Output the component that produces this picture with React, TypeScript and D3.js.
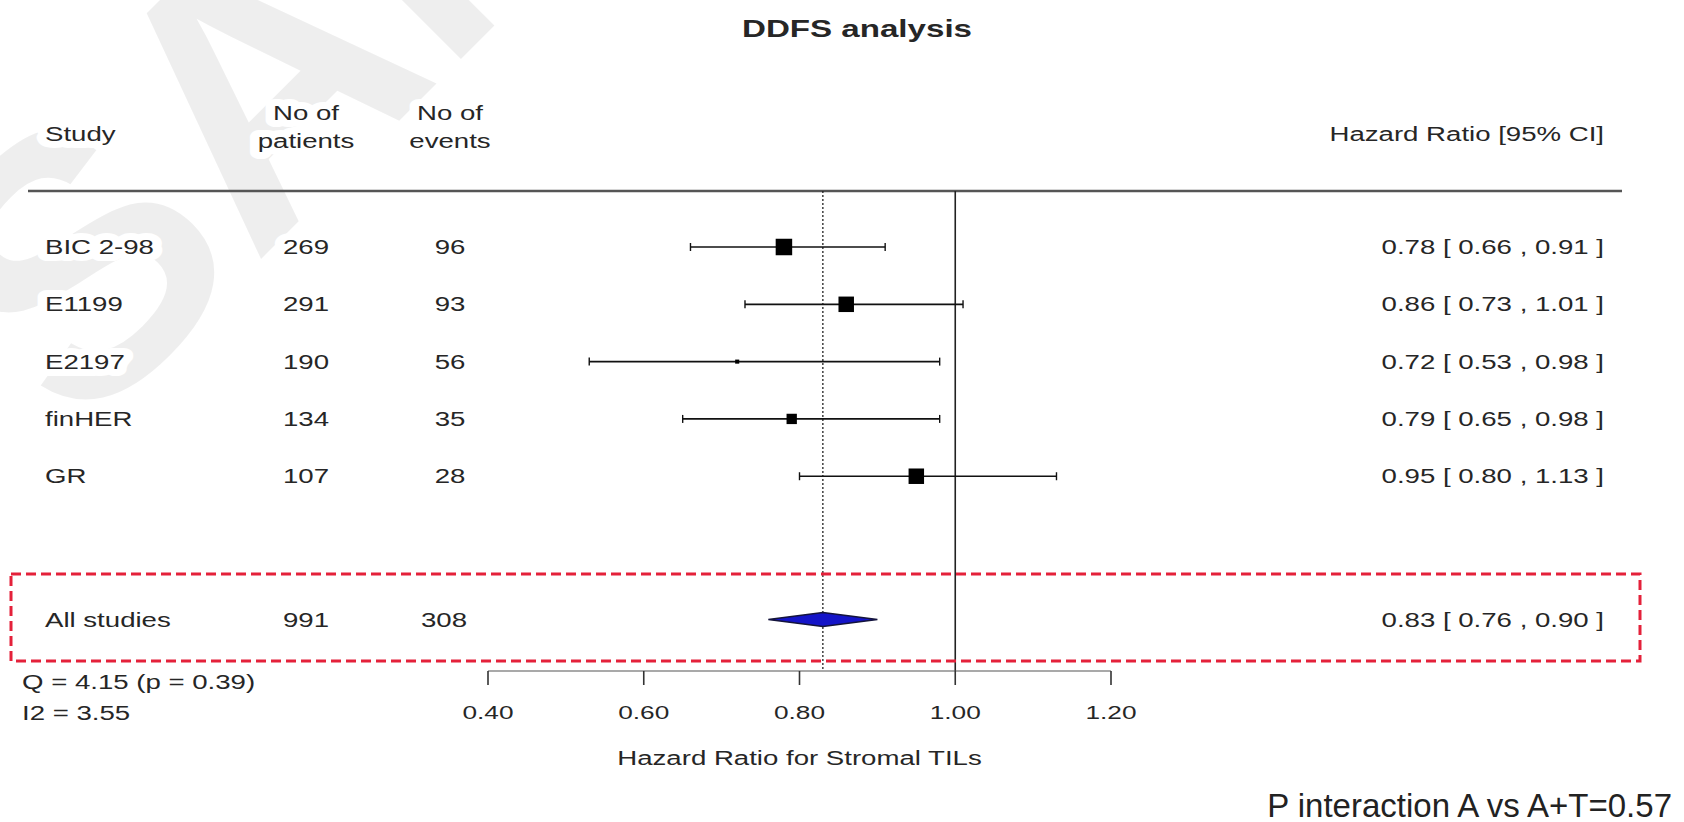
import React from "react";
import * as d3 from "d3";

// Study-level results
const studies = ["BIC 2-98", "E1199", "E2197", "finHER", "GR"];
const patients = [269, 291, 190, 134, 107];
const events = [96, 93, 56, 35, 28];
const hazardRatio = [0.78, 0.86, 0.72, 0.79, 0.95];
const ciLower = [0.66, 0.73, 0.53, 0.65, 0.8];
const ciUpper = [0.91, 1.01, 0.98, 0.98, 1.13];
const weights = [31.1, 27.4, 1.9, 12.2, 27.4];

// Pooled estimate
const pooledLabel = "All studies";
const pooledPatients = 991;
const pooledEvents = 308;
const pooledHR = 0.83;
const pooledLower = 0.76;
const pooledUpper = 0.9;

const xTicks = [0.4, 0.6, 0.8, 1.0, 1.2];
const heterogeneity = ["Q = 4.15 (p = 0.39)", "I2 = 3.55"];

const W = 1684;
const H = 822;
const SX = 1.38; // horizontal stretch of the table lettering
const FONT = "'Liberation Sans', Arial, Helvetica, sans-serif";
const INK = "#262626";

type TxtProps = {
  x: number;
  y: number;
  anchor?: "start" | "middle" | "end";
  size?: number;
  weight?: number | string;
  children: React.ReactNode;
};

// Table text: slightly widened lettering on a white knock-out so it reads over the watermark
function Txt({ x, y, anchor = "start", size = 20, weight = 400, children }: TxtProps) {
  return (
    <g transform={`translate(${x},${y}) scale(${SX},1)`}>
      <text
        x={0}
        y={0}
        textAnchor={anchor}
        dominantBaseline="central"
        fontFamily={FONT}
        fontSize={size}
        fontWeight={weight}
        fill={INK}
        stroke="#fff"
        strokeWidth={14}
        strokeLinejoin="round"
        paintOrder="stroke"
      >
        {children}
      </text>
    </g>
  );
}

const fmt = (v: number) => v.toFixed(2);

export default function App() {
  const x = d3.scaleLinear().domain([0.4, 1.2]).range([488, 1111]);
  // row index -> vertical position (pooled row sits 1.5 rows below the last study)
  const y = d3.scaleLinear().domain([0, 6.5]).range([247, 619.5]);
  const box = d3.scaleSqrt().domain([0, 31.1]).range([0, 16.5]);

  const headerLineY = 191;
  const axisY = 671;
  const tickLen = 14;

  const colStudy = 45;
  const colPatients = 306;
  const colEvents = 450;
  const colHR = 1604;

  const pooledY = y(6.5);
  const diamondH = 7;
  const diamond = d3.line()([
    [x(pooledLower), pooledY],
    [x(pooledHR), pooledY - diamondH],
    [x(pooledUpper), pooledY],
    [x(pooledHR), pooledY + diamondH],
  ]) + "Z";

  return (
    <svg
      width={W}
      height={H}
      viewBox={`0 0 ${W} ${H}`}
      style={{ position: "absolute", left: 0, top: 0, background: "#fff" }}
    >
      <rect x={0} y={0} width={W} height={H} fill="#fff" />

      {/* watermark */}
      <text
        transform="translate(80,440) rotate(-45)"
        fontFamily={FONT}
        fontWeight={700}
        fontSize={370}
        fill="#000"
        fillOpacity={0.065}
      >
        SAMPLE
      </text>

      {/* title */}
      <Txt x={857} y={29} anchor="middle" size={24} weight={700}>
        DDFS analysis
      </Txt>

      {/* column headers */}
      <Txt x={colStudy} y={134}>Study</Txt>
      <Txt x={colPatients} y={113} anchor="middle">No of</Txt>
      <Txt x={colPatients} y={141} anchor="middle">patients</Txt>
      <Txt x={colEvents} y={113} anchor="middle">No of</Txt>
      <Txt x={colEvents} y={141} anchor="middle">events</Txt>
      <Txt x={colHR} y={134} anchor="end">Hazard Ratio [95% CI]</Txt>

      <line x1={28} x2={1622} y1={headerLineY} y2={headerLineY} stroke="#555" strokeWidth={2.5} />

      {/* reference lines: pooled estimate (dotted) and no effect (solid) */}
      <line
        x1={x(pooledHR)}
        x2={x(pooledHR)}
        y1={headerLineY}
        y2={axisY}
        stroke="#222"
        strokeWidth={1.3}
        strokeDasharray="2,2"
      />
      <line x1={x(1)} x2={x(1)} y1={headerLineY} y2={axisY} stroke="#222" strokeWidth={1.6} />

      {/* study rows */}
      {studies.map((s, i) => {
        const cy = y(i);
        const side = box(weights[i]);
        return (
          <g key={s}>
            <Txt x={colStudy} y={cy}>{s}</Txt>
            <Txt x={colPatients} y={cy} anchor="middle">{patients[i]}</Txt>
            <Txt x={colEvents} y={cy} anchor="middle">{events[i]}</Txt>
            <Txt x={colHR} y={cy} anchor="end">
              {`${fmt(hazardRatio[i])} [ ${fmt(ciLower[i])} , ${fmt(ciUpper[i])} ]`}
            </Txt>
            <line x1={x(ciLower[i])} x2={x(ciUpper[i])} y1={cy} y2={cy} stroke="#111" strokeWidth={1.7} />
            <line x1={x(ciLower[i])} x2={x(ciLower[i])} y1={cy - 4} y2={cy + 4} stroke="#111" strokeWidth={1.4} />
            <line x1={x(ciUpper[i])} x2={x(ciUpper[i])} y1={cy - 4} y2={cy + 4} stroke="#111" strokeWidth={1.4} />
            <rect
              x={x(hazardRatio[i]) - side / 2}
              y={cy - side / 2}
              width={side}
              height={side}
              fill="#000"
            />
          </g>
        );
      })}

      {/* pooled row */}
      <Txt x={colStudy} y={pooledY}>{pooledLabel}</Txt>
      <Txt x={colPatients} y={pooledY} anchor="middle">{pooledPatients}</Txt>
      <Txt x={colEvents - 6} y={pooledY} anchor="middle">{pooledEvents}</Txt>
      <Txt x={colHR} y={pooledY} anchor="end">
        {`${fmt(pooledHR)} [ ${fmt(pooledLower)} , ${fmt(pooledUpper)} ]`}
      </Txt>
      <path d={diamond} fill="#1414c8" stroke="#14143c" strokeWidth={1.5} strokeLinejoin="miter" />

      {/* highlight frame round the pooled row */}
      <rect
        x={11}
        y={574}
        width={1629}
        height={87}
        fill="none"
        stroke="#e4213a"
        strokeWidth={3}
        strokeDasharray="10,5"
      />

      {/* x axis */}
      <line x1={x(xTicks[0])} x2={x(xTicks[xTicks.length - 1])} y1={axisY} y2={axisY} stroke="#555" strokeWidth={1.2} />
      {xTicks.map((t) => (
        <g key={t}>
          <line x1={x(t)} x2={x(t)} y1={axisY} y2={axisY + tickLen} stroke="#333" strokeWidth={1.6} />
          <Txt x={x(t)} y={712} anchor="middle" size={19}>
            {d3.format(".2f")(t)}
          </Txt>
        </g>
      ))}
      <Txt x={x(0.8)} y={758} anchor="middle" size={20}>
        Hazard Ratio for Stromal TILs
      </Txt>

      {/* heterogeneity statistics */}
      <Txt x={22} y={682}>{heterogeneity[0]}</Txt>
      <Txt x={22} y={713}>{heterogeneity[1]}</Txt>

      {/* interaction p-value */}
      <text
        x={1672}
        y={805}
        textAnchor="end"
        dominantBaseline="central"
        fontFamily={FONT}
        fontSize={33}
        fill="#222"
      >
        P interaction A vs A+T=0.57
      </text>
    </svg>
  );
}
